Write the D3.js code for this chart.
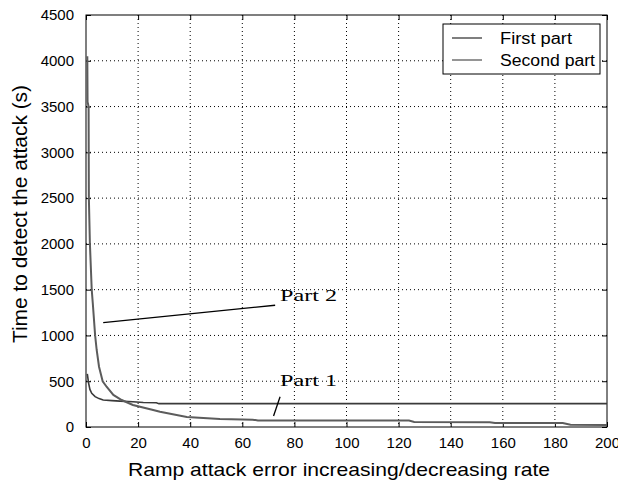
<!DOCTYPE html>
<html><head><meta charset="utf-8">
<script src="https://cdn.jsdelivr.net/npm/d3@7"></script>
<style>body{margin:0;background:#fff}svg{display:block}</style>
</head><body><svg id="c" width="618" height="481"></svg>
<script>
// ---- data ----
const xTicks = [0,20,40,60,80,100,120,140,160,180,200];
const yTicks = [0,500,1000,1500,2000,2500,3000,3500,4000,4500];
const firstX = [0.5,1,1.5,2.2,3.5,5,6.6,10,13,18,22,27,28,60,100,140,200];
const firstY = [580,480,410,368,332,310,295,288,283,275,268,265,255,255,255,255,255];
const secondX = [0.5,0.6,1.0,1.1,1.5,2.2,2.6,3.5,4.1,5,6.4,7.9,10.5,13.7,18,25.8,28.4,38.7,51.4,60,64,66,80,100,124,126,155,157,183,186,200];
const secondY = [4050,3550,3500,2500,2000,1500,1354,1000,841,658,500,440,350,295,240,186,167,110,88,82,80,72,70,70,70,55,53,45,43,25,22];
const seriesNames = ["First part","Second part"];
const annotations = [
  {text:"Part 2", tx:74.5, ty:1380, x1:6.6, y1:1140, x2:72.6, y2:1330},
  {text:"Part 1", tx:74.5, ty:445,  x1:74.5, y1:330, x2:72, y2:120}
];

const svg = d3.select("#c");
const L=86, R=607, T=15, B=427;
const x = d3.scaleLinear().domain([0,200]).range([L,R]);
const y = d3.scaleLinear().domain([0,4500]).range([B,T]);
const font = "'Liberation Sans', Arial, sans-serif";

// grid
const g = svg.append("g");
g.selectAll(".vg").data(xTicks.slice(1,-1)).join("line")
  .attr("x1",d=>x(d)).attr("x2",d=>x(d)).attr("y1",T).attr("y2",B)
  .attr("stroke","#000").attr("stroke-width",1).attr("stroke-dasharray","1,3");
g.selectAll(".hg").data(yTicks.slice(1,-1)).join("line")
  .attr("y1",d=>y(d)).attr("y2",d=>y(d)).attr("x1",L).attr("x2",R)
  .attr("stroke","#000").attr("stroke-width",1).attr("stroke-dasharray","1,3");

// axes with inward ticks
const fmt = d3.format("d");
const ax = (gen, tr) => {
  const a = svg.append("g").attr("transform",tr).call(gen);
  a.select(".domain").remove();
  a.selectAll("line").attr("stroke","#000");
  a.selectAll("text").attr("font-family",font).attr("font-size",15).attr("fill","#000");
  return a;
};
ax(d3.axisBottom(x).tickValues(xTicks).tickFormat(fmt).tickSizeInner(-5).tickPadding(10),`translate(0,${B})`);
ax(d3.axisTop(x).tickValues(xTicks).tickFormat("").tickSizeInner(-5),`translate(0,${T})`);
ax(d3.axisLeft(y).tickValues(yTicks).tickFormat(fmt).tickSizeInner(-5).tickPadding(12),`translate(${L},0)`);
ax(d3.axisRight(y).tickValues(yTicks).tickFormat("").tickSizeInner(-5),`translate(${R},0)`);

// frame
svg.append("rect").attr("x",L).attr("y",T).attr("width",R-L).attr("height",B-T)
  .attr("fill","none").attr("stroke","#000").attr("stroke-width",1);

// curves
const line = d3.line().x(d=>x(d[0])).y(d=>y(d[1]));
const s1 = firstX.map((v,i)=>[v,firstY[i]]);
const s2 = secondX.map((v,i)=>[v,secondY[i]]);
svg.append("path").datum(s1).attr("d",line).attr("fill","none").attr("stroke","#3a3a3a").attr("stroke-width",1.6);
svg.append("path").datum(s2).attr("d",line).attr("fill","none").attr("stroke","#5c5c5c").attr("stroke-width",2);

// annotations
annotations.forEach(a=>{
  svg.append("line").attr("x1",x(a.x1)).attr("y1",y(a.y1)).attr("x2",x(a.x2)).attr("y2",y(a.y2))
    .attr("stroke","#000").attr("stroke-width",1.3);
  svg.append("text").attr("x",x(a.tx)).attr("y",y(a.ty)).text(a.text)
    .attr("font-family","'Liberation Serif', serif").attr("font-size",17)
    .attr("textLength",57).attr("lengthAdjust","spacingAndGlyphs").attr("fill","#000");
});

// legend
const lg = svg.append("g");
lg.append("rect").attr("x",443).attr("y",24).attr("width",157).attr("height",50)
  .attr("fill","#fff").attr("stroke","#000").attr("stroke-width",1);
const legColors = ["#3a3a3a","#5c5c5c"];
const legLens = [72,95];
seriesNames.forEach((n,i)=>{
  const yy = 38 + i*22;
  lg.append("line").attr("x1",452).attr("x2",482).attr("y1",yy).attr("y2",yy)
    .attr("stroke",legColors[i]).attr("stroke-width",1.3);
  lg.append("text").attr("x",500).attr("y",yy+6).text(n)
    .attr("font-family",font).attr("font-size",16).attr("fill","#000")
    .attr("textLength",legLens[i]).attr("lengthAdjust","spacingAndGlyphs");
});

// axis titles
svg.append("text").attr("x",339).attr("y",476).attr("text-anchor","middle")
  .attr("font-family",font).attr("font-size",19).attr("fill","#000")
  .attr("textLength",422).attr("lengthAdjust","spacingAndGlyphs")
  .text("Ramp attack error increasing/decreasing rate");
svg.append("text").attr("transform","translate(27,214) rotate(-90)").attr("text-anchor","middle")
  .attr("font-family",font).attr("font-size",20).attr("fill","#000")
  .attr("textLength",258).attr("lengthAdjust","spacingAndGlyphs")
  .text("Time to detect the attack (s)");
</script></body></html>
